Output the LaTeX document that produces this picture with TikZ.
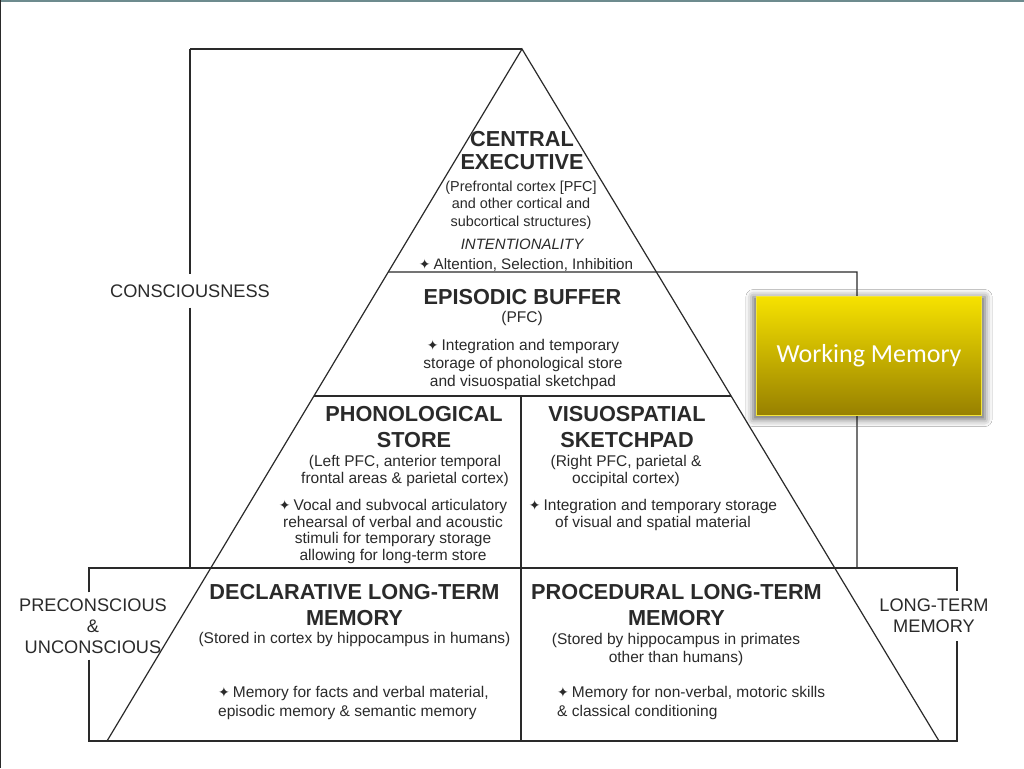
\documentclass[tikz,border=0pt]{standalone}
\usepackage{fontspec}
\setmainfont{Liberation Sans}
\newfontfamily\symfont{DejaVu Sans}
\newfontfamily\wmfont{Carlito}
\usetikzlibrary{calc,shadows.blur}
\definecolor{ink}{HTML}{2A2A2A}
\definecolor{wmtop}{HTML}{F6E200}
\definecolor{wmmid}{HTML}{D0BA00}
\definecolor{wmbot}{HTML}{978000}
\definecolor{wmedge}{HTML}{F3E53C}
\definecolor{frametop}{HTML}{6D8B8E}
\newcommand{\spark}{{\symfont\fontsize{14}{14}\selectfont ✦}\hspace{3pt}}

\begin{document}
\begin{tikzpicture}[
    x=1pt, y=-1pt,
    pyr/.style={draw=ink, line width=1.2pt},
    head/.style={font=\bfseries\fontsize{21.7}{#1}\selectfont, align=center, inner sep=0pt, text=ink},
    head/.default=25,
    body/.style={font=\fontsize{15.5}{#1}\selectfont, align=center, inner sep=0pt, text=ink},
    body/.default=16.8,
    side/.style={font=\fontsize{18.2}{21}\selectfont, align=center, inner xsep=0pt, text=ink},
    wmbox/.style={draw=wmedge, line width=1.5pt, top color=wmtop, middle color=wmmid, bottom color=wmbot,
        minimum width=225pt, minimum height=119pt, text=white, font=\wmfont\fontsize{26}{26}\selectfont,
        blur shadow={shadow xshift=0pt, shadow yshift=-2pt, shadow blur radius=7pt, shadow scale=1.03, shadow opacity=60}}
]
    \fill[white] (0,0) rectangle (1024,768);
    \useasboundingbox (0,0) rectangle (1024,768);
    \fill[frametop] (0,0) rectangle (1024,2.5);
    \fill[ink] (0,0) rectangle (1.2,768);

    \coordinate (apex) at (522,49);
    \coordinate (bl) at (107,741);
    \coordinate (br) at (939,741);
    \coordinate (ctop) at (190,49);
    \coordinate (cbot) at (190,568);
    \coordinate (wtop) at (857,272);
    \coordinate (wbot) at (857,568);
    \coordinate (ebl) at ($(apex)!0.3223!(bl)$);
    \coordinate (psl) at ($(apex)!0.5014!(bl)$);
    \coordinate (psr) at ($(apex)!0.5014!(br)$);
    \coordinate (mtop) at (521,396);
    \coordinate (mbot) at (521,741);
    \coordinate (ltl) at (89,568);
    \coordinate (ltr) at (957,568);
    \coordinate (lbl) at (89,741);
    \coordinate (lbr) at (957,741);

    \node[side, inner ysep=10pt] (cons) at (190,291) {CONSCIOUSNESS};
    \node[side, inner ysep=6pt] (pre) at (93,626) {PRECONSCIOUS\\\&\\UNCONSCIOUS};
    \node[side, inner ysep=8pt] (ltm) at (934,616) {LONG-TERM\\MEMORY};

    \node[head=23] (ce) at (522,151) {CENTRAL\\EXECUTIVE};
    \node[body=17.5, font=\fontsize{14.4}{17.5}\selectfont] (cesub) at (521,205) {(Prefrontal cortex [PFC]\\and other cortical and\\subcortical structures)};
    \node[body, font=\itshape\fontsize{15}{17}\selectfont, anchor=base] (ceint) at (522,249) {INTENTIONALITY};
    \node[body, font=\fontsize{15.2}{17}\selectfont, anchor=base] (cefun) at (526,269) {\spark Altention, Selection, Inhibition};

    \node[head, anchor=base] (eb) at (522.5,304) {EPISODIC BUFFER};
    \node[body, anchor=base] (ebsub) at (522,322) {(PFC)};
    \node[body=18] (ebtxt) at (523,364) {\spark Integration and temporary\\storage of phonological store\\and visuospatial sketchpad};

    \node[head=26] (ps) at (414,427) {PHONOLOGICAL\\STORE};
    \node[body] (pssub) at (405,470.7) {(Left PFC, anterior temporal\\frontal areas \& parietal cortex)};
    \node[body] (pstxt) at (393,531.4) {\spark Vocal and subvocal articulatory\\rehearsal of verbal and acoustic\\stimuli for temporary storage\\allowing for long-term store};

    \node[head=26] (vs) at (627,427) {VISUOSPATIAL\\SKETCHPAD};
    \node[body] (vssub) at (626,470.7) {(Right PFC, parietal \&\\occipital cortex)};
    \node[body] (vstxt) at (653,514.7) {\spark Integration and temporary storage\\of visual and spatial material};

    \node[head=26] (dl) at (354.5,605) {DECLARATIVE LONG-TERM\\MEMORY};
    \node[body, anchor=base] (dlsub) at (354.5,643) {(Stored in cortex by hippocampus in humans)};
    \node[body=19, align=left, anchor=west] (dltxt) at (218,702.8) {\spark Memory for facts and verbal material,\\episodic memory \& semantic memory};

    \node[head=26] (pl) at (676.5,605) {PROCEDURAL LONG-TERM\\MEMORY};
    \node[body=18.5] (plsub) at (676,649.5) {(Stored by hippocampus in primates\\other than humans)};
    \node[body=19, align=left, anchor=west] (pltxt) at (557,702.8) {\spark Memory for non-verbal, motoric skills\\\& classical conditioning};

    \draw[pyr] (bl) -- (apex) -- (br);
    \draw[pyr] (ctop) -- (apex);
    \draw[pyr] (ctop) -- (cons.north);
    \draw[pyr] (cons.south) -- (cbot);
    \draw[pyr] (ebl) -- (wtop) -- (wbot);
    \draw[pyr] (psl) -- (psr);
    \draw[pyr] (mtop) -- (mbot);
    \draw[pyr] (ltl |- pre.north) -- (ltl) -- (ltr) -- (ltr |- ltm.north);
    \draw[pyr] (ltl |- pre.south) -- (lbl) -- (lbr) -- (ltr |- ltm.south);

    \node[wmbox] (wm) at (869,356) {Working Memory};
\end{tikzpicture}
\end{document}
